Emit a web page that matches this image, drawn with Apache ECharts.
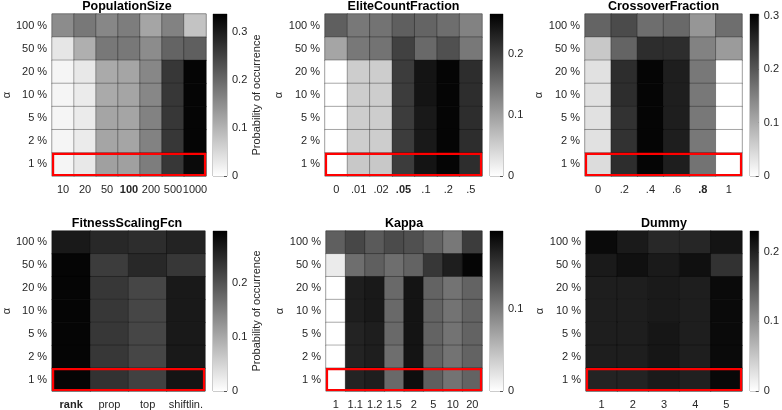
<!DOCTYPE html>
<html>
<head>
<meta charset="utf-8">
<script src="https://cdn.jsdelivr.net/npm/echarts@6/dist/echarts.min.js"></script>
<style>
  html, body { margin: 0; padding: 0; background: #fff; }
  #main { width: 782px; height: 410px; }
</style>
</head>
<body>
<div id="main"></div>
<script>
  // significance levels, bottom to top
  var alphaLevels = ['1 %', '2 %', '5 %', '10 %', '20 %', '50 %', '100 %'];

  // every matrix below: rows 100 %, 50 %, 20 %, 10 %, 5 %, 2 %, 1 % (top to bottom)
  var popSizeCats = ['10', '20', '50', '100', '200', '500', '1000'];
  var popSizeVals = [
    [0.152, 0.179, 0.159, 0.172, 0.119, 0.165, 0.079],
    [0.033, 0.106, 0.179, 0.179, 0.152, 0.205, 0.211],
    [0.013, 0.030, 0.112, 0.119, 0.159, 0.264, 0.330],
    [0.013, 0.026, 0.112, 0.119, 0.159, 0.264, 0.330],
    [0.013, 0.026, 0.119, 0.119, 0.165, 0.264, 0.330],
    [0.013, 0.026, 0.119, 0.119, 0.165, 0.264, 0.330],
    [0.013, 0.030, 0.126, 0.126, 0.172, 0.264, 0.324]
  ];

  var eliteCats = ['0', '.01', '.02', '.05', '.1', '.2', '.5'];
  var eliteVals = [
    [0.166, 0.140, 0.145, 0.166, 0.161, 0.151, 0.130],
    [0.094, 0.140, 0.145, 0.197, 0.156, 0.182, 0.140],
    [0.000, 0.052, 0.052, 0.203, 0.244, 0.260, 0.218],
    [0.000, 0.052, 0.052, 0.203, 0.244, 0.260, 0.218],
    [0.000, 0.052, 0.052, 0.203, 0.239, 0.260, 0.218],
    [0.000, 0.052, 0.052, 0.203, 0.239, 0.260, 0.218],
    [0.000, 0.057, 0.057, 0.203, 0.244, 0.260, 0.218]
  ];

  var crossCats = ['0', '.2', '.4', '.6', '.8', '1'];
  var crossVals = [
    [0.184, 0.214, 0.172, 0.178, 0.125, 0.172],
    [0.065, 0.184, 0.250, 0.250, 0.149, 0.119],
    [0.036, 0.250, 0.297, 0.267, 0.160, 0.000],
    [0.036, 0.250, 0.297, 0.267, 0.160, 0.000],
    [0.036, 0.244, 0.297, 0.267, 0.160, 0.000],
    [0.036, 0.244, 0.297, 0.267, 0.160, 0.000],
    [0.042, 0.250, 0.297, 0.267, 0.166, 0.000]
  ];

  var scalingCats = ['rank', 'prop', 'top', 'shiftlin.'];
  var scalingVals = [
    [0.266, 0.249, 0.243, 0.255],
    [0.289, 0.226, 0.249, 0.231],
    [0.289, 0.231, 0.214, 0.266],
    [0.289, 0.231, 0.214, 0.266],
    [0.289, 0.231, 0.214, 0.266],
    [0.289, 0.231, 0.214, 0.266],
    [0.289, 0.237, 0.220, 0.272]
  ];

  var kappaCats = ['1', '1.1', '1.2', '1.5', '2', '5', '10', '20'];
  var kappaVals = [
    [0.122, 0.141, 0.126, 0.138, 0.134, 0.119, 0.103, 0.149],
    [0.015, 0.111, 0.122, 0.111, 0.119, 0.153, 0.172, 0.191],
    [0.000, 0.172, 0.176, 0.115, 0.180, 0.119, 0.107, 0.119],
    [0.000, 0.172, 0.176, 0.115, 0.180, 0.119, 0.107, 0.119],
    [0.000, 0.168, 0.172, 0.115, 0.180, 0.119, 0.107, 0.119],
    [0.000, 0.168, 0.172, 0.111, 0.180, 0.119, 0.107, 0.119],
    [0.000, 0.168, 0.172, 0.115, 0.184, 0.122, 0.107, 0.119]
  ];

  var dummyCats = ['1', '2', '3', '4', '5'];
  var dummyVals = [
    [0.221, 0.207, 0.194, 0.196, 0.212],
    [0.207, 0.216, 0.207, 0.216, 0.185],
    [0.203, 0.203, 0.207, 0.203, 0.221],
    [0.203, 0.203, 0.207, 0.203, 0.221],
    [0.203, 0.203, 0.210, 0.203, 0.221],
    [0.203, 0.203, 0.210, 0.203, 0.221],
    [0.198, 0.198, 0.207, 0.201, 0.223]
  ];

  // upper end of each colour bar
  var colorMax = [0.337, 0.265, 0.303, 0.295, 0.195, 0.23];
  var colorTicks = [0, 0.1, 0.2, 0.3];

  var panels = [
    { title: 'PopulationSize', cats: popSizeCats, vals: popSizeVals, bold: '100', box: [48, 14, 158, 162], bar: [213, 14, 14, 162], cbName: 'Probability of occurrence' },
    { title: 'EliteCountFraction', cats: eliteCats, vals: eliteVals, bold: '.05', box: [325, 14, 157, 162], bar: [490, 14, 13, 162] },
    { title: 'CrossoverFraction', cats: crossCats, vals: crossVals, bold: '.8', box: [585, 14, 157, 162], bar: [750, 14, 13, 162] },
    { title: 'FitnessScalingFcn', cats: scalingCats, vals: scalingVals, bold: 'rank', box: [49, 231, 156, 160], bar: [213, 231, 14, 160], cbName: 'Probability of occurrence' },
    { title: 'Kappa', cats: kappaCats, vals: kappaVals, bold: null, box: [326, 231, 156, 160], bar: [490, 231, 13, 160] },
    { title: 'Dummy', cats: dummyCats, vals: dummyVals, bold: null, box: [586, 231, 156, 160], bar: [750, 231, 13, 160] }
  ];

  var txt = '#262626';
  var option = {
    animation: false,
    textStyle: { fontFamily: 'Liberation Sans, Arial, sans-serif' },
    title: [], grid: [], xAxis: [], yAxis: [], visualMap: [], series: []
  };

  panels.forEach(function(p, i) {
    var max = colorMax[i];
    var g = option.grid.length;

    option.title.push({
      text: p.title, left: p.box[0] + p.box[2] / 2, top: p.box[1] - 14, textAlign: 'center', padding: 0,
      textStyle: { fontSize: 12.5, fontWeight: 'bold', color: '#000' }
    });

    // heatmap + colour bar grids
    option.grid.push({ left: p.box[0], top: p.box[1], width: p.box[2], height: p.box[3], show: true, borderColor: '#b5b5b5', borderWidth: 1 });
    option.grid.push({ left: p.bar[0], top: p.bar[1], width: p.bar[2], height: p.bar[3], show: true, borderColor: '#9a9a9a', borderWidth: 1 });

    option.xAxis.push({
      type: 'category', gridIndex: g,
      data: p.cats.map(function(c) { return c === p.bold ? { value: c, textStyle: { fontWeight: 'bold' } } : c; }),
      axisLine: { show: false }, axisTick: { show: false }, splitLine: { show: false },
      axisLabel: { color: txt, fontSize: 11, margin: 8, interval: 0 }
    });
    option.yAxis.push({
      type: 'category', gridIndex: g, data: alphaLevels,
      name: 'α', nameLocation: 'middle', nameGap: 38, nameRotate: 90,
      nameTextStyle: { color: txt, fontSize: 11 },
      axisLine: { show: false }, axisTick: { show: false }, splitLine: { show: false },
      axisLabel: { color: txt, fontSize: 11, margin: 5 }
    });

    option.xAxis.push({ type: 'category', gridIndex: g + 1, data: ['c'], show: false });
    option.yAxis.push({
      type: 'value', gridIndex: g + 1, min: 0, max: max, interval: 0.1, position: 'right',
      name: p.cbName || '', nameLocation: 'middle', nameGap: 23, nameRotate: 90,
      nameTextStyle: { color: txt, fontSize: 11 },
      axisLine: { show: false }, splitLine: { show: false },
      axisTick: { show: true, inside: true, length: 3, lineStyle: { color: '#555' } },
      axisLabel: {
        color: txt, fontSize: 11, margin: 5, showMaxLabel: false,
        formatter: function(v) {
          for (var k = 0; k < colorTicks.length; k++) {
            if (Math.abs(v - colorTicks[k]) < 1e-6) return String(colorTicks[k]);
          }
          return '';
        }
      }
    });

    var cells = [];
    p.vals.forEach(function(row, r) {
      row.forEach(function(v, c) { cells.push([c, 6 - r, v]); });
    });

    var hmIndex = option.series.length;
    option.series.push({
      type: 'heatmap', xAxisIndex: g, yAxisIndex: g, data: cells, silent: true,
      itemStyle: { borderColor: 'rgba(0,0,0,0.3)', borderWidth: 1 },
      emphasis: { disabled: true }
    });
    option.visualMap.push({
      type: 'continuous', show: false, seriesIndex: hmIndex, min: 0, max: max,
      inRange: { color: ['#ffffff', '#000000'] }
    });

    // colour bar drawn as a single full-width bar
    option.series.push({
      type: 'bar', xAxisIndex: g + 1, yAxisIndex: g + 1, data: [max], barWidth: '100%', silent: true,
      itemStyle: {
        color: { type: 'linear', x: 0, y: 0, x2: 0, y2: 1, colorStops: [{ offset: 0, color: '#000' }, { offset: 1, color: '#fff' }] }
      }
    });

    // red frame around the 1 % row
    option.series.push({
      type: 'custom', xAxisIndex: g, yAxisIndex: g, silent: true, z: 10,
      data: [[0, 0, p.cats.length]],
      renderItem: function(params, api) {
        var n = api.value(2);
        var a = api.coord([0, 0]);
        var b = api.coord([n - 1, 0]);
        var s = api.size([1, 1]);
        return {
          type: 'rect',
          shape: { x: a[0] - s[0] / 2 + 1, y: a[1] - s[1] / 2 + 1, width: b[0] - a[0] + s[0] - 2, height: s[1] - 2 },
          style: { fill: 'none', stroke: '#ff0000', lineWidth: 2.2 }
        };
      }
    });
  });

  var chart = echarts.init(document.getElementById('main'));
  chart.setOption(option);
</script>
</body>
</html>
